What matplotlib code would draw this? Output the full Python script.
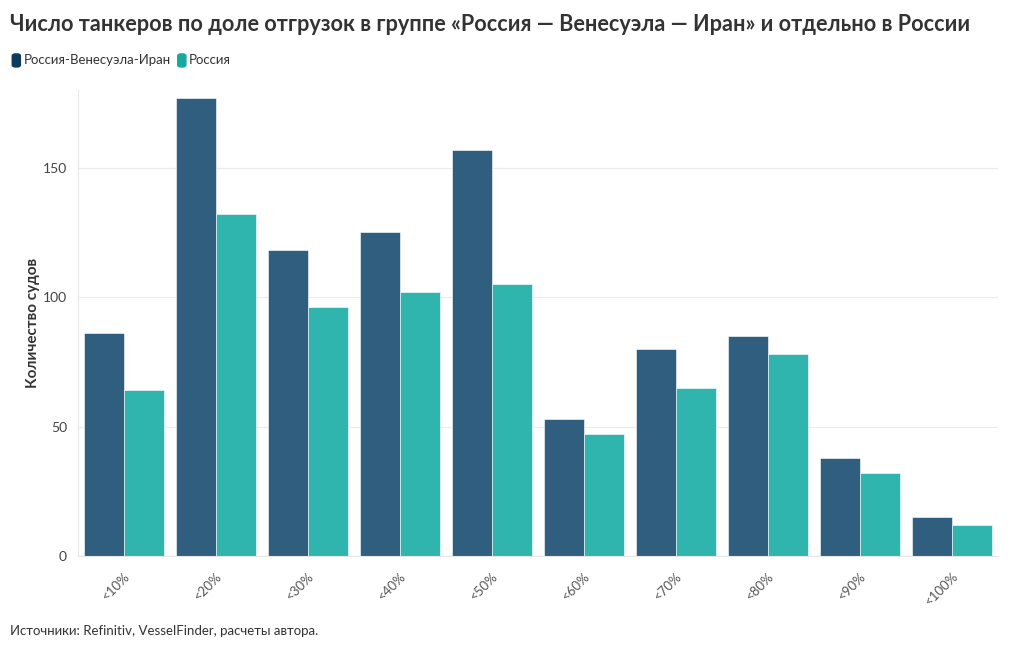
import numpy as np
import matplotlib.pyplot as plt
from matplotlib.patches import FancyBboxPatch

categories = ['<10%', '<20%', '<30%', '<40%', '<50%', '<60%', '<70%', '<80%', '<90%', '<100%']
rvi = [86, 177, 118, 125, 157, 53, 80, 85, 38, 15]
russia = [64, 132, 96, 102, 105, 47, 65, 78, 32, 12]
series_names = ['Россия-Венесуэла-Иран', 'Россия']

plt.rcParams['font.family'] = ['Lato', 'DejaVu Sans']

dark = '#2f5e7e'
teal = '#30b5ae'

fig = plt.figure(figsize=(10.2, 6.5), dpi=100)
ax = fig.add_axes([0.0765, 0.1446, 0.9015, 0.717])

x = np.arange(len(categories))
w = 0.435
ax.bar(x - w / 2, rvi, width=w, color=dark, edgecolor='white', linewidth=0.4)
ax.bar(x + w / 2, russia, width=w, color=teal, edgecolor='white', linewidth=0.4)

ax.set_xlim(-0.5, len(categories) - 0.5)
ax.set_ylim(0, 180)
ax.set_yticks([0, 50, 100, 150])
ax.set_xticks(x)
ax.set_xticklabels(categories, rotation=45, ha='right', rotation_mode='anchor')
ax.tick_params(axis='x', length=0, pad=10, labelsize=9.5, labelcolor='#555555')
ax.tick_params(axis='y', length=0, pad=8, labelsize=10, labelcolor='#444444')
ax.grid(axis='y', color='#ebebeb', linewidth=0.8)
ax.set_axisbelow(True)
for s in ['top', 'right']:
    ax.spines[s].set_visible(False)
ax.spines['left'].set_color('#e6e6e6')
ax.spines['bottom'].set_color('#e6e6e6')
ax.set_ylabel('Количество судов', fontsize=11, fontweight='bold', color='#333333', labelpad=2)

fig.text(0.01, 0.962, 'Число танкеров по доле отгрузок в группе «Россия — Венесуэла — Иран» и отдельно в России',
         fontsize=15.6, fontweight='bold', color='#333333', va='center')

# legend
leg_y = 0.907
xpos = 0.012
for name, c in zip(series_names, ['#0d3b5e', '#17a89f']):
    fig.patches.append(FancyBboxPatch((xpos, leg_y - 0.01), 0.008, 0.02,
                                      boxstyle='round,pad=0,rounding_size=0.003',
                                      transform=fig.transFigure, color=c))
    t = fig.text(xpos + 0.011, leg_y, name, fontsize=9.5, color='#333333', va='center')
    fig.canvas.draw()
    bb = t.get_window_extent()
    xpos = bb.x1 / fig.bbox.width + 0.007

fig.text(0.01, 0.029, 'Источники: Refinitiv, VesselFinder, расчеты автора.',
         fontsize=9.5, color='#333333', va='center')

fig.savefig('out.png', dpi=100)
